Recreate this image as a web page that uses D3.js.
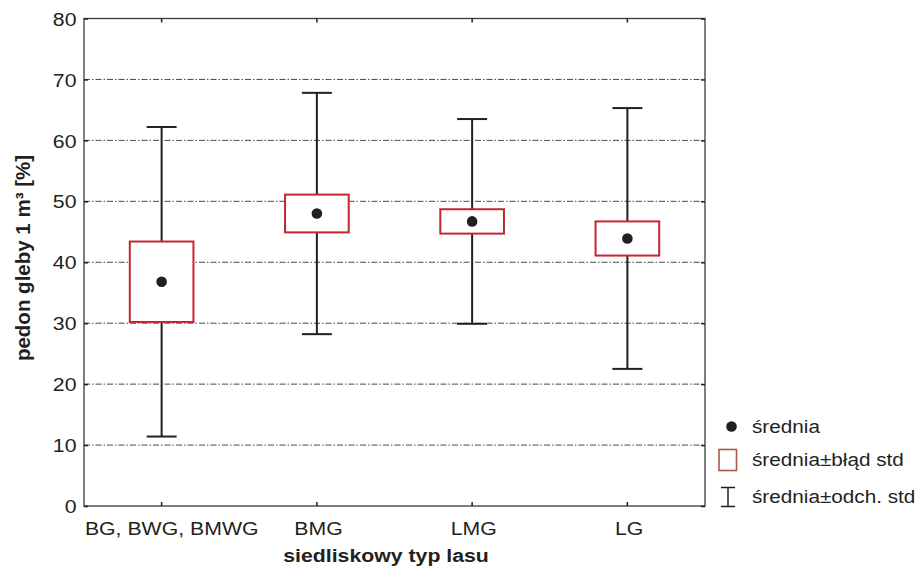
<!DOCTYPE html>
<html><head><meta charset="utf-8">
<script src="https://cdn.jsdelivr.net/npm/d3@7"></script>
<style>
body{margin:0;background:#fff;}
text{font-family:"Liberation Sans",Arial,sans-serif;fill:#231f20;}
</style></head>
<body><svg id="c" width="922" height="570"></svg>
<script>
const categories = ["BG, BWG, BMWG", "BMG", "LMG", "LG"];
const means = [36.8, 48.0, 46.7, 43.9];
const stdErr = [6.6, 3.1, 2.0, 2.8];
const stdDev = [25.4, 19.8, 16.8, 21.4];
const yTicks = [0, 10, 20, 30, 40, 50, 60, 70, 80];
const gridTicks = [10, 20, 30, 40, 50, 60, 70];
const legendLabels = ["średnia", "średnia±błąd std", "średnia±odch. std"];
const yTitle = "pedon gleby 1 m³ [%]";
const xTitle = "siedliskowy typ lasu";

const SX = 1.12;
const ink = "#231f20";
const boxRed = "#c4262e";
const svg = d3.select("#c");
const L = 84, R = 705, T = 18.5, B = 506;

const x = d3.scaleBand().domain(categories).range([L, R]).padding(0);
const y = d3.scaleLinear().domain([0, 80]).range([B, T]);

// grid
svg.append("g").selectAll("line").data(gridTicks).join("line")
  .attr("x1", L).attr("x2", R).attr("y1", d => y(d)).attr("y2", d => y(d))
  .attr("stroke", "#4a4a4a").attr("stroke-width", 1)
  .attr("stroke-dasharray", "6,2,1.5,2");

// frame
svg.append("rect").attr("x", L).attr("y", T).attr("width", R - L).attr("height", B - T)
  .attr("fill", "none").attr("stroke", "#3a3a3a").attr("stroke-width", 1.3);

function styleAxis(g) {
  g.select(".domain").remove();
  g.selectAll(".tick line").attr("stroke", ink).attr("stroke-width", 1.5);
  g.selectAll("text").attr("font-size", 19).attr("fill", ink);
}
// left axis
const ax = svg.append("g").attr("transform", `translate(${L},0)`)
  .call(d3.axisLeft(y).tickValues(yTicks).tickSize(-4).tickPadding(8).tickFormat(d3.format("d")));
styleAxis(ax);
ax.selectAll("text").attr("x", -7.5 / SX).attr("transform", `scale(${SX},1)`).attr("dy", "0.35em");
// right axis ticks
const axr = svg.append("g").attr("transform", `translate(${R},0)`)
  .call(d3.axisRight(y).tickValues(yTicks).tickSize(-4).tickFormat(""));
styleAxis(axr);
// bottom axis
const axb = svg.append("g").attr("transform", `translate(0,${B})`)
  .call(d3.axisBottom(x).tickSize(-4).tickPadding(16));
styleAxis(axb);
axb.selectAll("text").attr("transform", `scale(${SX},1)`).attr("y", 16).attr("dy", "0.71em")
  .attr("dx", (d, i) => i === 0 ? 9 : 1.5);
// top axis ticks
const axt = svg.append("g").attr("transform", `translate(0,${T})`)
  .call(d3.axisTop(x).tickSize(-4).tickFormat(""));
styleAxis(axt);

// whiskers, boxes, means
const bw = x.bandwidth();
const boxW = bw * 0.41, capW = bw * 0.193;
const g = svg.append("g");
categories.forEach((c, i) => {
  const cx = x(c) + bw / 2;
  const hi = means[i] + stdDev[i], lo = means[i] - stdDev[i];
  g.append("line").attr("x1", cx).attr("x2", cx).attr("y1", y(hi)).attr("y2", y(lo))
    .attr("stroke", ink).attr("stroke-width", 2);
  [hi, lo].forEach(v => g.append("line").attr("x1", cx - capW / 2).attr("x2", cx + capW / 2)
    .attr("y1", y(v)).attr("y2", y(v)).attr("stroke", ink).attr("stroke-width", 2));
  const bt = means[i] + stdErr[i], bb = means[i] - stdErr[i];
  g.append("rect").attr("x", cx - boxW / 2).attr("y", y(bt)).attr("width", boxW)
    .attr("height", y(bb) - y(bt)).attr("fill", "#fff").attr("stroke", boxRed).attr("stroke-width", 2);
  g.append("circle").attr("cx", cx).attr("cy", y(means[i])).attr("r", 5.3).attr("fill", ink);
});

// titles
svg.append("g").attr("transform", `translate(30,258) rotate(-90)`)
  .append("text").attr("text-anchor", "middle").attr("font-size", 20.5).attr("font-weight", "bold")
  .text(yTitle);
svg.append("g").attr("transform", `translate(386,562) scale(${SX},1)`)
  .append("text").attr("text-anchor", "middle").attr("font-size", 19).attr("font-weight", "bold").text(xTitle);

// legend
const lg = svg.append("g");
const ly = [426.5, 460, 497];
lg.append("circle").attr("cx", 731.5).attr("cy", ly[0]).attr("r", 5.3).attr("fill", ink);
lg.append("rect").attr("x", 719).attr("y", ly[1] - 10.5).attr("width", 17.5).attr("height", 21)
  .attr("fill", "#fff").attr("stroke", "#a65a48").attr("stroke-width", 1.6);
lg.append("line").attr("x1", 728).attr("x2", 728).attr("y1", ly[2] - 9.5).attr("y2", ly[2] + 9.5).attr("stroke", ink).attr("stroke-width", 1.5);
lg.append("line").attr("x1", 721).attr("x2", 735).attr("y1", ly[2] - 9.5).attr("y2", ly[2] - 9.5).attr("stroke", ink).attr("stroke-width", 1.5);
lg.append("line").attr("x1", 721).attr("x2", 735).attr("y1", ly[2] + 9.5).attr("y2", ly[2] + 9.5).attr("stroke", ink).attr("stroke-width", 1.5);
legendLabels.forEach((t, i) => {
  lg.append("g").attr("transform", `translate(752,${ly[i]}) scale(${SX},1)`)
    .append("text").attr("dy", "0.35em").attr("font-size", 18.5).text(t);
});
</script></body></html>
